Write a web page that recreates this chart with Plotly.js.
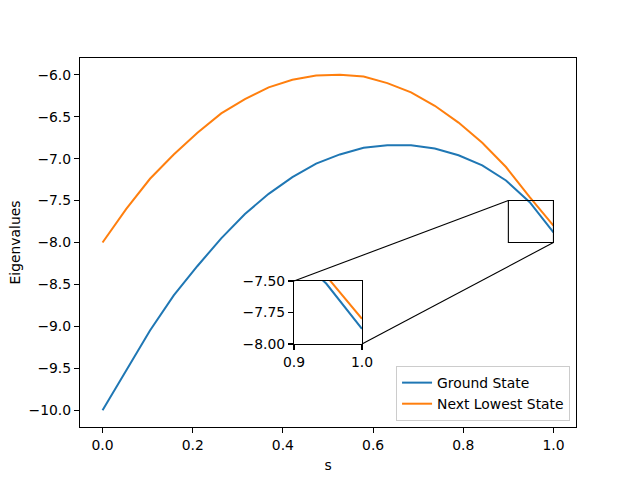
<!DOCTYPE html>
<html>
<head>
<meta charset="utf-8">
<script src="https://cdn.plot.ly/plotly-3.0.1.min.js"></script>
<style>html,body{margin:0;padding:0;background:#fff;}#chart{width:640px;height:480px;}</style>
</head>
<body>
<div id="chart"></div>
<script>
// s values: 20 evenly spaced points from 0 to 1
const sValues = [0, 1/19, 2/19, 3/19, 4/19, 5/19, 6/19, 7/19, 8/19, 9/19, 10/19, 11/19, 12/19, 13/19, 14/19, 15/19, 16/19, 17/19, 18/19, 1];
const groundState = [-10.0, -9.52, -9.05, -8.63, -8.28, -7.95, -7.66, -7.42, -7.22, -7.06, -6.95, -6.87, -6.84, -6.84, -6.88, -6.96, -7.08, -7.26, -7.52, -7.88];
const nextLowestState = [-8.0, -7.60, -7.24, -6.95, -6.69, -6.46, -6.29, -6.15, -6.06, -6.01, -6.00, -6.02, -6.10, -6.21, -6.37, -6.57, -6.81, -7.10, -7.46, -7.80];
const seriesNames = ["Ground State", "Next Lowest State"];
const xTicks = [0, 0.2, 0.4, 0.6, 0.8, 1.0];
const yTicks = [-10, -9.5, -9, -8.5, -8, -7.5, -7, -6.5, -6];
const zoomX = [0.9, 1.0];
const zoomY = [-8.0, -7.5];
const insetYTicks = [-8.0, -7.75, -7.5];

const colors = ["#1f77b4", "#ff7f0e"];
const font = {family: "DejaVu Sans, sans-serif", size: 13.9, color: "#000"};
const xr = [-0.05, 1.05];
const yr = [-10.2, -5.8];
const insetDomX = [0.4315, 0.5685];
const insetDomY = [0.225, 0.3957];
const px = v => (v - xr[0]) / (xr[1] - xr[0]);
const py = v => (v - yr[0]) / (yr[1] - yr[0]);

const traces = [
  {x: sValues, y: groundState, name: seriesNames[0], mode: "lines", line: {color: colors[0], width: 2}, xaxis: "x", yaxis: "y"},
  {x: sValues, y: nextLowestState, name: seriesNames[1], mode: "lines", line: {color: colors[1], width: 2}, xaxis: "x", yaxis: "y"},
  {x: sValues, y: groundState, showlegend: false, mode: "lines", line: {color: colors[0], width: 2}, xaxis: "x2", yaxis: "y2", hoverinfo: "skip"},
  {x: sValues, y: nextLowestState, showlegend: false, mode: "lines", line: {color: colors[1], width: 2}, xaxis: "x2", yaxis: "y2", hoverinfo: "skip"}
];

const axisCommon = {
  showgrid: false, zeroline: false, showline: true, mirror: true,
  linecolor: "#000", linewidth: 1.1, ticks: "outside", ticklen: 5, tickwidth: 1.1, tickcolor: "#000",
  tickfont: font
};

const layout = {
  width: 640, height: 480,
  margin: {l: 80, r: 64, t: 58, b: 53},
  paper_bgcolor: "#fff", plot_bgcolor: "#fff",
  font: font,
  showlegend: true,
  legend: {x: 0.988, y: 0.016, xanchor: "right", yanchor: "bottom", bgcolor: "rgba(255,255,255,0.8)", bordercolor: "#cccccc", borderwidth: 1, font: font, tracegroupgap: 0},
  xaxis: Object.assign({}, axisCommon, {range: xr, tickvals: xTicks, tickformat: ".1f", domain: [0, 1], anchor: "y", title: {text: "s", font: font, standoff: 8}}),
  yaxis: Object.assign({}, axisCommon, {range: yr, tickvals: yTicks, tickformat: ".1f", domain: [0, 1], anchor: "x", title: {text: "Eigenvalues", font: font, standoff: 4}}),
  xaxis2: Object.assign({}, axisCommon, {range: zoomX, tickvals: zoomX, tickformat: ".1f", domain: insetDomX, anchor: "y2"}),
  yaxis2: Object.assign({}, axisCommon, {range: zoomY, tickvals: insetYTicks, tickformat: ".2f", domain: insetDomY, anchor: "x2"}),
  shapes: [
    {type: "rect", xref: "x", yref: "y", x0: zoomX[0], x1: zoomX[1], y0: zoomY[0], y1: zoomY[1], line: {color: "#000", width: 1.1}, fillcolor: "rgba(0,0,0,0)"},
    {type: "line", xref: "paper", yref: "paper", x0: insetDomX[0], y0: insetDomY[1], x1: px(zoomX[0]), y1: py(zoomY[1]), line: {color: "#000", width: 1.1}},
    {type: "line", xref: "paper", yref: "paper", x0: insetDomX[1], y0: insetDomY[0], x1: px(zoomX[1]), y1: py(zoomY[0]), line: {color: "#000", width: 1.1}}
  ]
};

Plotly.newPlot("chart", traces, layout, {displayModeBar: false, staticPlot: true});
</script>
</body>
</html>
